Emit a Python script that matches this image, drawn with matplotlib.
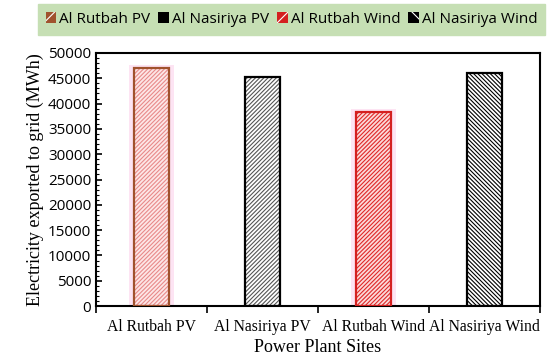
import matplotlib.pyplot as plt
from matplotlib.patches import Patch
from matplotlib.ticker import MultipleLocator

sites = ["Al Rutbah PV", "Al Nasiriya PV", "Al Rutbah Wind", "Al Nasiriya Wind"]
energy = [47000, 45300, 38300, 46000]

face = ["#fde6e6", "white", "#fbd9d9", "white"]
hatch_col = ["#e88a8a", "#555555", "#e02828", "black"]
edge_col = ["#a0522d", "black", "#d42020", "black"]
hatches = ["////////", "////////", "////////", "\\\\\\\\\\\\\\\\"]

plt.rcParams['hatch.linewidth'] = 0.8

fig = plt.figure(figsize=(5.5, 3.58), dpi=100)
ax = fig.add_axes([0.1745, 0.145, 0.8075, 0.707])

x = list(range(len(sites)))
w = 0.32
for i in x:
    if edge_col[i] != "black":
        # pale pink glow behind the red bars
        ax.bar(i, energy[i] + 600, width=w + 0.08, color="#fde4f3", zorder=1)
    ax.bar(i, energy[i], width=w, color=face[i], edgecolor=hatch_col[i],
           hatch=hatches[i], linewidth=0, zorder=2)
    ax.bar(i, energy[i], width=w, fill=False, edgecolor=edge_col[i],
           linewidth=1.6, zorder=3)

ax.set_xlim(-0.5, 3.5)
ax.set_ylim(0, 50000)
ax.yaxis.set_major_locator(MultipleLocator(5000))
ax.yaxis.set_minor_locator(MultipleLocator(1000))
ax.tick_params(axis='y', which='major', direction='in', length=4, width=1.2,
               labelsize=11)
ax.tick_params(axis='y', which='minor', direction='in', length=2.5, width=0.8)
for lab in ax.get_yticklabels():
    lab.set_family("Open Sans")

ax.set_xticks(x)
ax.set_xticklabels(sites, family="Liberation Serif", fontsize=11.3)
ax.set_xticks([-0.5, 0.5, 1.5, 2.5, 3.5], minor=True)
ax.tick_params(axis='x', which='major', direction='in', length=4, width=1.2, pad=9)
ax.tick_params(axis='x', which='minor', direction='out', length=5, width=1.2)

for s in ax.spines.values():
    s.set_linewidth(1.5)

ax.set_ylabel("Electricity exported to grid (MWh)", family="Liberation Serif",
              fontsize=13, labelpad=3)
ax.set_xlabel("Power Plant Sites", family="Liberation Serif", fontsize=13,
              labelpad=3)

handles = [Patch(facecolor=edge_col[i], edgecolor="white", linewidth=0,
                 hatch="/" if i < 3 else "\\") for i in x]
leg = fig.legend(handles, sites, loc="upper left", bbox_to_anchor=(0.069, 0.9, 0.922, 0.088),
                 mode="expand", ncol=4, frameon=True, fancybox=False,
                 prop={"family": "Open Sans", "size": 11},
                 handlelength=0.7, handleheight=0.7, handletextpad=0.2,
                 borderaxespad=0, borderpad=0.5, columnspacing=1.0)
leg.get_frame().set_facecolor("#c6dfb4")
leg.get_frame().set_edgecolor("#c6dfb4")
leg.get_frame().set_alpha(1)

fig.savefig("out.png", dpi=100)
